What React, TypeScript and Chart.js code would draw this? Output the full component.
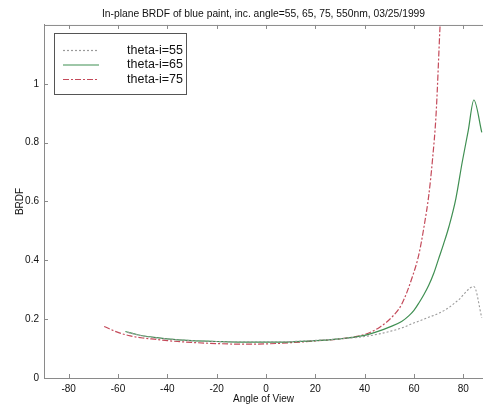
import React, { useEffect, useRef } from "react";
import { Chart, registerables } from "chart.js";

Chart.register(...registerables);

const titleText = "In-plane BRDF of blue paint, inc. angle=55, 65, 75, 550nm, 03/25/1999";
const xTickValues = [-80, -60, -40, -20, 0, 20, 40, 60, 80];
const yTickValues = [0, 0.2, 0.4, 0.6, 0.8, 1];
const seriesLabels = ["theta-i=55", "theta-i=65", "theta-i=75"];

const angles55 = [-56, -50, -40, -30, -20, -10, 0, 10, 20, 30, 40, 46, 50, 55, 59.4, 65, 72.8, 78, 84.3, 87.5];
const brdf55 = [0.155, 0.143, 0.133, 0.127, 0.124, 0.123, 0.123, 0.124, 0.128, 0.133, 0.141, 0.15, 0.158, 0.17, 0.185, 0.203, 0.232, 0.265, 0.311, 0.205];

const angles65 = [-57, -52, -48, -44, -40, -30, -20, -10, 0, 10, 20, 30, 40, 46, 50, 55, 58, 60, 62, 64, 66, 68, 70, 72, 74.2, 77, 79.6, 82, 84.3, 87.5];
const brdf65 = [0.158, 0.147, 0.141, 0.137, 0.133, 0.127, 0.124, 0.122, 0.122, 0.123, 0.127, 0.133, 0.145, 0.16, 0.173, 0.192, 0.212, 0.23, 0.255, 0.283, 0.315, 0.355, 0.405, 0.455, 0.515, 0.61, 0.735, 0.84, 0.945, 0.835];

const angles75 = [-65.6, -60, -55, -50, -44, -40, -30, -20, -10, 0, 10, 20, 30, 40, 46, 51.3, 55, 59.4, 62, 64.1, 66, 67.5, 69, 70.6, 71.5];
const brdf75 = [0.175, 0.155, 0.143, 0.136, 0.131, 0.127, 0.121, 0.117, 0.115, 0.116, 0.12, 0.126, 0.133, 0.148, 0.172, 0.209, 0.25, 0.345, 0.42, 0.515, 0.62, 0.74, 0.9, 1.2, 1.35];

const colors = ["#9a9a9a", "#3f8f52", "#c44a5a"];
const dashes = [[2, 2], [], [6, 2, 2, 2]];

const toPoints = (xs: number[], ys: number[]) => xs.map((x, i) => ({ x, y: ys[i] }));

const frameColor = "#8a8a8a";

const framePlugin = {
  id: "matlabFrame",
  afterDraw(chart: any) {
    const { ctx, chartArea, scales } = chart;
    const { left, right, top, bottom } = chartArea;
    ctx.save();
    ctx.strokeStyle = frameColor;
    ctx.lineWidth = 1;
    ctx.beginPath();
    ctx.moveTo(left, top + 0.5);
    ctx.lineTo(right, top + 0.5);
    ctx.stroke();
    const tl = 4;
    ctx.beginPath();
    for (const v of xTickValues) {
      const px = Math.round(scales.x.getPixelForValue(v)) + 0.5;
      ctx.moveTo(px, bottom);
      ctx.lineTo(px, bottom - tl);
      ctx.moveTo(px, top);
      ctx.lineTo(px, top + tl);
    }
    for (const v of yTickValues) {
      const py = Math.round(scales.y.getPixelForValue(v)) + 0.5;
      ctx.moveTo(left, py);
      ctx.lineTo(left + tl, py);
    }
    ctx.stroke();

    // legend box
    const bx = 54.5, by = 33.5, bw = 132, bh = 61;
    ctx.fillStyle = "#ffffff";
    ctx.fillRect(bx, by, bw, bh);
    ctx.strokeStyle = "#555555";
    ctx.strokeRect(bx, by, bw, bh);
    const rows = [50, 64.5, 79];
    ctx.font = "12.5px 'Liberation Sans', Arial, sans-serif";
    ctx.textAlign = "right";
    ctx.textBaseline = "middle";
    seriesLabels.forEach((lab, i) => {
      ctx.strokeStyle = colors[i];
      ctx.lineWidth = 1.2;
      ctx.setLineDash(dashes[i]);
      ctx.beginPath();
      ctx.moveTo(63, rows[i] + 0.5);
      ctx.lineTo(99, rows[i] + 0.5);
      ctx.stroke();
      ctx.setLineDash([]);
      ctx.fillStyle = "#111111";
      ctx.fillText(lab, 183, rows[i] + 0.5);
    });
    ctx.restore();
  },
};

export default function App() {
  const ref = useRef<HTMLCanvasElement | null>(null);
  useEffect(() => {
    if (!ref.current) return;
    const font = { family: "'Liberation Sans', Arial, sans-serif", size: 10 };
    const chart = new Chart(ref.current, {
      type: "line",
      data: {
        datasets: [
          { label: seriesLabels[0], data: toPoints(angles55, brdf55) },
          { label: seriesLabels[1], data: toPoints(angles65, brdf65) },
          { label: seriesLabels[2], data: toPoints(angles75, brdf75) },
        ].map((d, i) => ({
          ...d,
          borderColor: colors[i],
          backgroundColor: colors[i],
          borderDash: dashes[i],
          borderWidth: i === 0 ? 1.1 : 1.2,
          pointRadius: 0,
          fill: false,
          cubicInterpolationMode: "monotone" as const,
        })),
      },
      plugins: [framePlugin],
      options: {
        animation: false,
        responsive: false,
        layout: { padding: 0 },
        plugins: {
          legend: { display: false },
          tooltip: { enabled: false },
          title: {
            display: true,
            text: titleText,
            fullSize: false,
            color: "#111111",
            font: { family: "'Liberation Sans', Arial, sans-serif", size: 10.3, weight: "normal" },
            padding: { top: 7.5, bottom: 5.1 },
          },
        },
        scales: {
          x: {
            type: "linear",
            min: -90,
            max: 88,
            afterBuildTicks: (s: any) => {
              s.ticks = xTickValues.map((v) => ({ value: v }));
            },
            afterFit: (s: any) => {
              s.height = 30;
            },
            grid: { display: false, drawTicks: false },
            border: { display: true, color: frameColor, width: 1 },
            ticks: { color: "#111111", font, padding: 5, maxRotation: 0, callback: (v: any) => String(v) },
            title: { display: true, text: "Angle of View", color: "#111111", font, padding: { top: 0, bottom: 3 } },
          },
          y: {
            type: "linear",
            min: 0,
            max: 1.2,
            afterBuildTicks: (s: any) => {
              s.ticks = yTickValues.map((v) => ({ value: v }));
            },
            afterFit: (s: any) => {
              s.width = 44;
            },
            grid: { display: false, drawTicks: false },
            border: { display: true, color: frameColor, width: 1 },
            ticks: { color: "#111111", font, padding: 5, callback: (v: any) => String(v) },
            title: { display: true, text: "BRDF", color: "#111111", font, padding: { top: 14, bottom: 0 } },
          },
        },
      },
    });
    return () => chart.destroy();
  }, []);
  return (
    <div style={{ position: "absolute", left: 0, top: 0, width: 483, height: 408, background: "#fff" }}>
      <canvas ref={ref} width={483} height={408} style={{ display: "block" }} />
    </div>
  );
}
